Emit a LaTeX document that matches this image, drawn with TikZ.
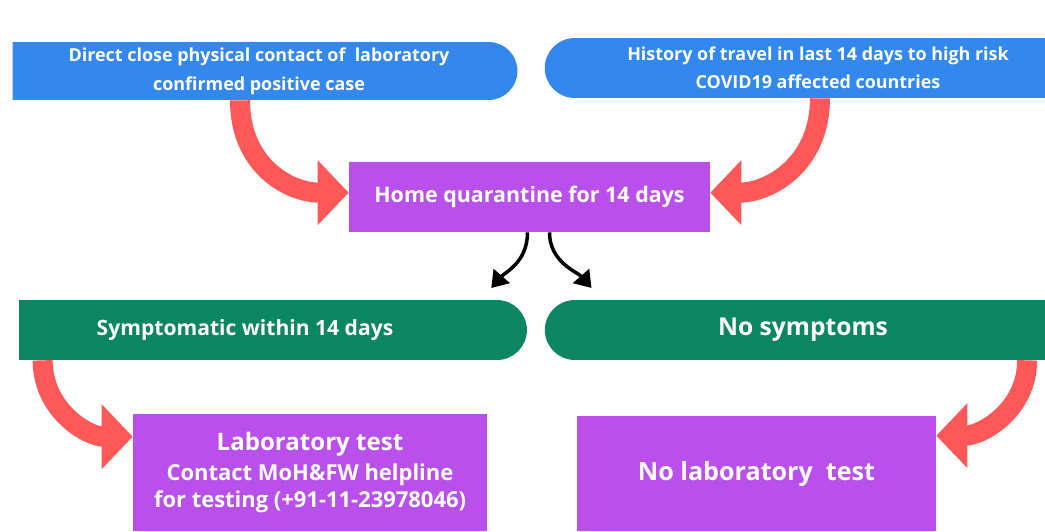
\documentclass[tikz,border=0pt]{standalone}
\usepackage{fontspec}
\setmainfont{Open Sans}
\usetikzlibrary{calc,arrows.meta,shapes.misc}
\definecolor{causeblue}{RGB}{51,136,238}
\definecolor{quarpurple}{RGB}{185,80,236}
\definecolor{statusgreen}{RGB}{11,133,98}
\definecolor{flowred}{RGB}{255,88,88}
\tikzset{
	textwhite/.style={text=white, font=\bfseries, align=center, inner sep=0pt},
	roundright/.style={textwhite, rounded rectangle, rounded rectangle west arc=none},
	roundleft/.style={textwhite, rounded rectangle, rounded rectangle east arc=none},
	squarebox/.style={textwhite, rectangle, fill=quarpurple},
	redflow/.style={draw=flowred, line width=0.4cm, -{Triangle[length=0.62cm,width=1.26cm]}},
	blackflow/.style={draw=black, line width=0.07cm, -{Triangle[length=0.32cm,width=0.42cm]}}
}

\begin{document}
\begin{tikzpicture}[x=0.02cm, y=-0.02cm]
		%%%%% START %%%%%
		\useasboundingbox[fill=white] (0, 0) rectangle (1045, 531);
		
		\node[roundright, fill=causeblue, minimum width=10.1cm, minimum height=1.16cm,
			font=\bfseries\fontsize{10.2}{16.5}\selectfont] (contact) at (259, 71)
			{Direct close physical contact of ~laboratory\\confirmed positive case};
		\node[roundleft, fill=causeblue, minimum width=10.76cm, minimum height=1.2cm,
			font=\bfseries\fontsize{10.2}{16}\selectfont] (travel) at (818, 68)
			{History of travel in last 14 days to high risk\\COVID19 affected countries};
		
		\node[squarebox, minimum width=7.22cm, minimum height=1.4cm,
			font=\bfseries\fontsize{12.2}{14}\selectfont] (quarantine) at (529.5, 197)
			{\raisebox{3pt}{Home quarantine for 14 days}};
		
		\node[roundright, fill=statusgreen, minimum width=10.16cm, minimum height=1.2cm,
			font=\bfseries\fontsize{12}{14}\selectfont] (symptomatic) at (272, 330)
			{Symptomatic within 14 days\hspace*{1.08cm}};
		\node[roundleft, fill=statusgreen, minimum width=10.28cm, minimum height=1.2cm,
			font=\bfseries\fontsize{14}{16}\selectfont] (nosymptoms) at (803, 330)
			{No symptoms};
		
		\node[squarebox, minimum width=7.08cm, minimum height=2.34cm,
			font=\bfseries\fontsize{12.5}{15.6}\selectfont] (labtest) at (310, 472.5)
			{{\fontsize{13.7}{16.5}\selectfont Laboratory test}\\[1.5pt]
			Contact MoH\&FW helpline\\
			for testing (+91-11-23978046)};
		\node[squarebox, minimum width=7.18cm, minimum height=2.3cm,
			font=\bfseries\fontsize{14.3}{16}\selectfont] (nolabtest) at (756.5, 473.5)
			{No laboratory ~test};
		
		\draw[redflow] ($(contact.south)+(-19, 0)$) .. controls +(0, 65) and +(-60, 0) .. ($(quarantine.north west)+(0, 31)$);
		\draw[redflow] ($(travel.south)+(2, 0)$) .. controls +(0, 65) and +(60, 0) .. ($(quarantine.north east)+(0, 31)$);
		
		\draw[blackflow] ($(quarantine.south)+(-2, 0)$) .. controls +(0, 30) and +(14, -16) .. ($(symptomatic.east)+(-36, -42)$);
		\draw[blackflow] ($(quarantine.south)+(20, 0)$) .. controls +(0, 30) and +(-14, -16) .. ($(nosymptoms.west)+(47, -42)$);
		
		\draw[redflow] ($(symptomatic.south west)+(24, 0)$) .. controls +(0, 50) and +(-45, 0) .. ($(labtest.north west)+(0, 23)$);
		\draw[redflow] ($(nosymptoms.south east)+(-32, 0)$) .. controls +(0, 50) and +(45, 0) .. ($(nolabtest.north east)+(0, 20)$);
		%%%%% END %%%%%
	\end{tikzpicture}
\end{document}
